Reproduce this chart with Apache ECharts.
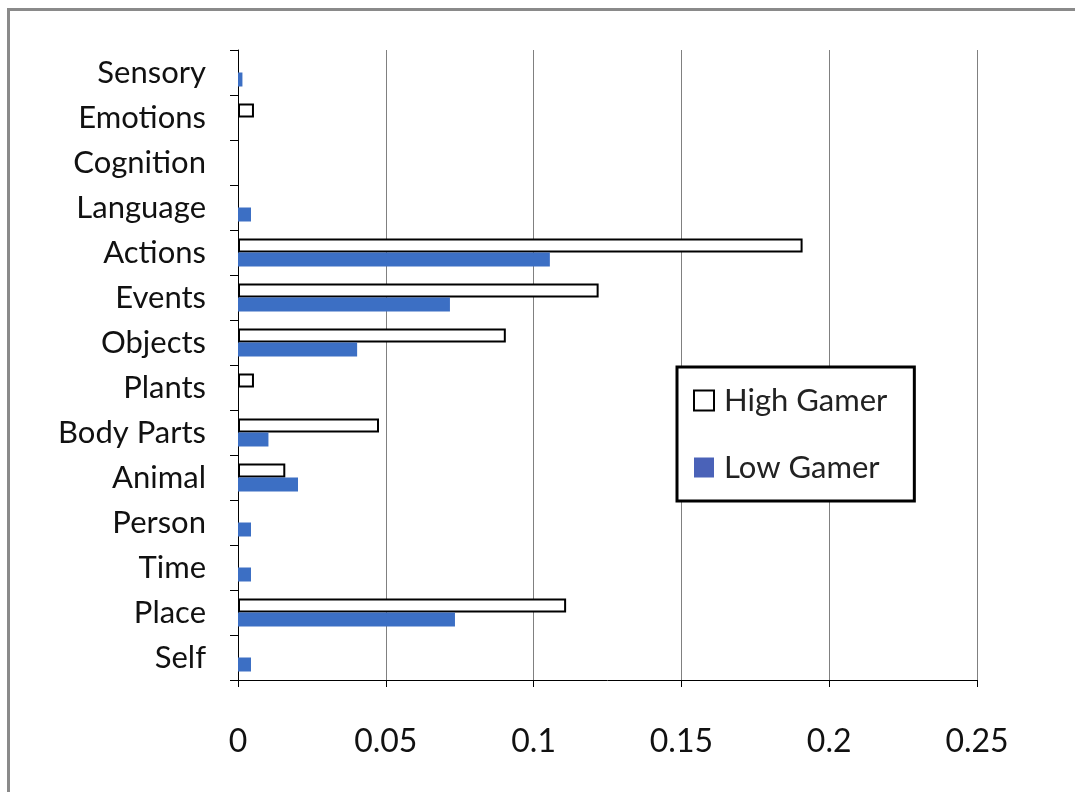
<!DOCTYPE html>
<html>
<head>
<meta charset="utf-8">
<script src="https://cdn.jsdelivr.net/npm/echarts@6/dist/echarts.min.js"></script>
<style>
html,body{margin:0;padding:0;background:#fff;}
#frame{position:absolute;left:7px;top:8px;width:1068px;height:784px;border-left:3px solid #8a8a8a;border-top:3px solid #8a8a8a;box-sizing:border-box;}
#chart{position:absolute;left:0;top:0;width:1075px;height:792px;}
</style>
</head>
<body>
<div id="frame"></div>
<div id="chart"></div>
<script>
const categories = ["Self","Place","Time","Person","Animal","Body Parts","Plants","Objects","Events","Actions","Language","Cognition","Emotions","Sensory"];
const highGamer = [0, 0.111, 0, 0, 0.016, 0.0477, 0.0054, 0.0906, 0.122, 0.191, 0, 0, 0.0054, 0];
const lowGamer  = [0.0044, 0.0734, 0.0044, 0.0044, 0.0203, 0.0103, 0, 0.0403, 0.0717, 0.1055, 0.0044, 0, 0, 0.0015];
const xTicks = [0, 0.05, 0.1, 0.15, 0.2, 0.25];

const hideZero = arr => arr.map(v => v === 0 ? null : v);
const chart = echarts.init(document.getElementById('chart'));
const font = 'Lato, "Open Sans", sans-serif';
chart.setOption({
  animation: false,
  backgroundColor: 'transparent',
  grid: {left: 238, right: 98, top: 50, bottom: 112, containLabel: false},
  legend: {
    orient: 'vertical',
    left: 677, top: 367,
    padding: [18, 27, 18, 16],
    borderColor: '#000', borderWidth: 3,
    backgroundColor: '#fff',
    itemGap: 36,
    itemWidth: 20, itemHeight: 20,
    textStyle: {fontFamily: font, fontSize: 31, color: '#222', padding: [0,0,0,5]},
    data: [
      {name: 'High Gamer', icon: 'rect', itemStyle: {color: '#fff', borderColor: '#000', borderWidth: 2}},
      {name: 'Low Gamer', icon: 'rect', itemStyle: {color: '#4a62b8'}}
    ]
  },
  xAxis: {
    type: 'value',
    min: xTicks[0], max: xTicks[xTicks.length-1], interval: 0.05,
    axisLine: {show: true, lineStyle: {color: '#000', width: 1}},
    axisTick: {show: true, length: 7, lineStyle: {color: '#000'}},
    splitLine: {show: true, lineStyle: {color: '#808080', width: 1}},
    axisLabel: {fontFamily: font, fontSize: 32, color: '#111', margin: 46,
      formatter: v => String(Math.round(v*100)/100)}
  },
  yAxis: {
    type: 'category',
    data: categories,
    axisLine: {show: true, lineStyle: {color: '#000', width: 1}},
    axisTick: {show: true, length: 8, lineStyle: {color: '#000'}},
    axisLabel: {fontFamily: font, fontSize: 31, color: '#111', margin: 32}
  },
  series: [
    {name: 'High Gamer', type: 'bar', data: hideZero(highGamer), barWidth: 14, barGap: '0%',
      itemStyle: {color: '#fff', borderColor: '#000', borderWidth: 2}},
    {name: 'Low Gamer', type: 'bar', data: hideZero(lowGamer), barWidth: 14, barGap: '0%',
      itemStyle: {color: '#3c6fc4'}}
  ]
});
</script>
</body>
</html>
